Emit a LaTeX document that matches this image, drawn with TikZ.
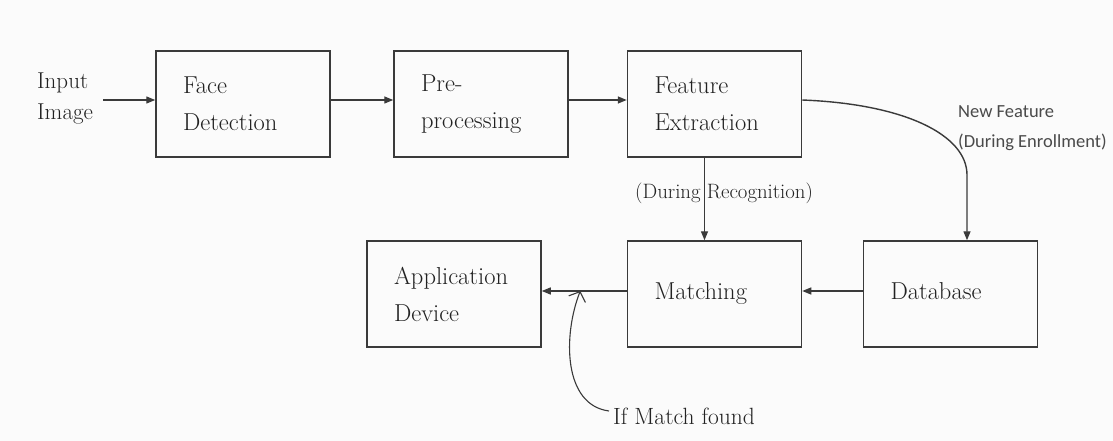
\documentclass[tikz,border=0pt]{standalone}
\usepackage{fontspec}
\newfontfamily\calib{Carlito}
\usetikzlibrary{arrows.meta,calc}
\definecolor{linec}{HTML}{3A3A3A}
\definecolor{txtc}{HTML}{222222}
\definecolor{sanc}{HTML}{4A4A4A}
\definecolor{bgc}{HTML}{FBFBFB}
\begin{document}
\begin{tikzpicture}[x=1pt,y=-1pt,
  box/.style={draw=linec, line width=1.5pt, text width=120pt, inner xsep=27pt, minimum height=106pt, align=left, text=txtc, font=\rmfamily\fontsize{24.5}{37}\selectfont},
  arr/.style={draw=linec, line width=1.4pt, -{Triangle[length=9pt,width=7pt]}},
  serlbl/.style={text=txtc, inner sep=0pt, align=left},
  sanslbl/.style={text=sanc, inner sep=0pt, align=left, font=\calib\fontsize{18.5}{30}\selectfont}]
\fill[bgc] (0,0) rectangle (1113,441);
\useasboundingbox (0,0) rectangle (1113,441);

\node[box] (FD) at (243,104) {Face\\Detection};
\node[box] (PP) at (481,104) {Pre-\\processing};
\node[box] (FE) at (714.5,104) {Feature\\Extraction};
\node[box] (AD) at (454,294) {Application\\Device};
\node[box] (M) at (714.5,294) {\raisebox{6pt}{Matching}};
\node[box] (DB) at (950.5,294) {\raisebox{6pt}{Database}};

\node[serlbl, anchor=west, font=\rmfamily\fontsize{23}{31}\selectfont] (in) at (37,98) {Input\\Image};
\node[serlbl, anchor=west, font=\rmfamily\fontsize{20.8}{25}\selectfont] (rec) at (635,193) {(During Recognition)};
\node[sanslbl, anchor=west] (nf) at (958,128) {New Feature\\(During Enrollment)};
\node[serlbl, anchor=west, font=\rmfamily\fontsize{23.5}{28}\selectfont] (ifm) at (613,416) {If Match found};

\coordinate (inA) at (103,100);
\draw[arr] (inA) -- (inA -| FD.west);
\draw[arr] ([yshift=4pt]FD.east) -- ([yshift=4pt]PP.west);
\draw[arr] ([yshift=4pt]PP.east) -- ([yshift=4pt]FE.west);
\draw[arr] ([xshift=-10pt]FE.south) -- ([xshift=-10pt]M.north);
\draw[arr] ([yshift=4pt]FE.east) .. controls (905,104) and (967,135) .. (967,175) -- ([xshift=16.5pt]DB.north);
\draw[arr] ([yshift=3pt]DB.west) -- ([yshift=3pt]M.west -| M.east);
\coordinate (hit) at ($([yshift=3pt]M.west)!0.547!([yshift=3pt]AD.east)$);
\draw[arr] ([yshift=3pt]M.west) -- ([yshift=3pt]AD.east);
\draw[draw=linec, line width=1.1pt, -{Straight Barb[length=8pt,width=18pt]}] ([xshift=-4pt,yshift=5pt]ifm.west) .. controls (563,405) and (563,335) .. (hit);
\end{tikzpicture}
\end{document}
